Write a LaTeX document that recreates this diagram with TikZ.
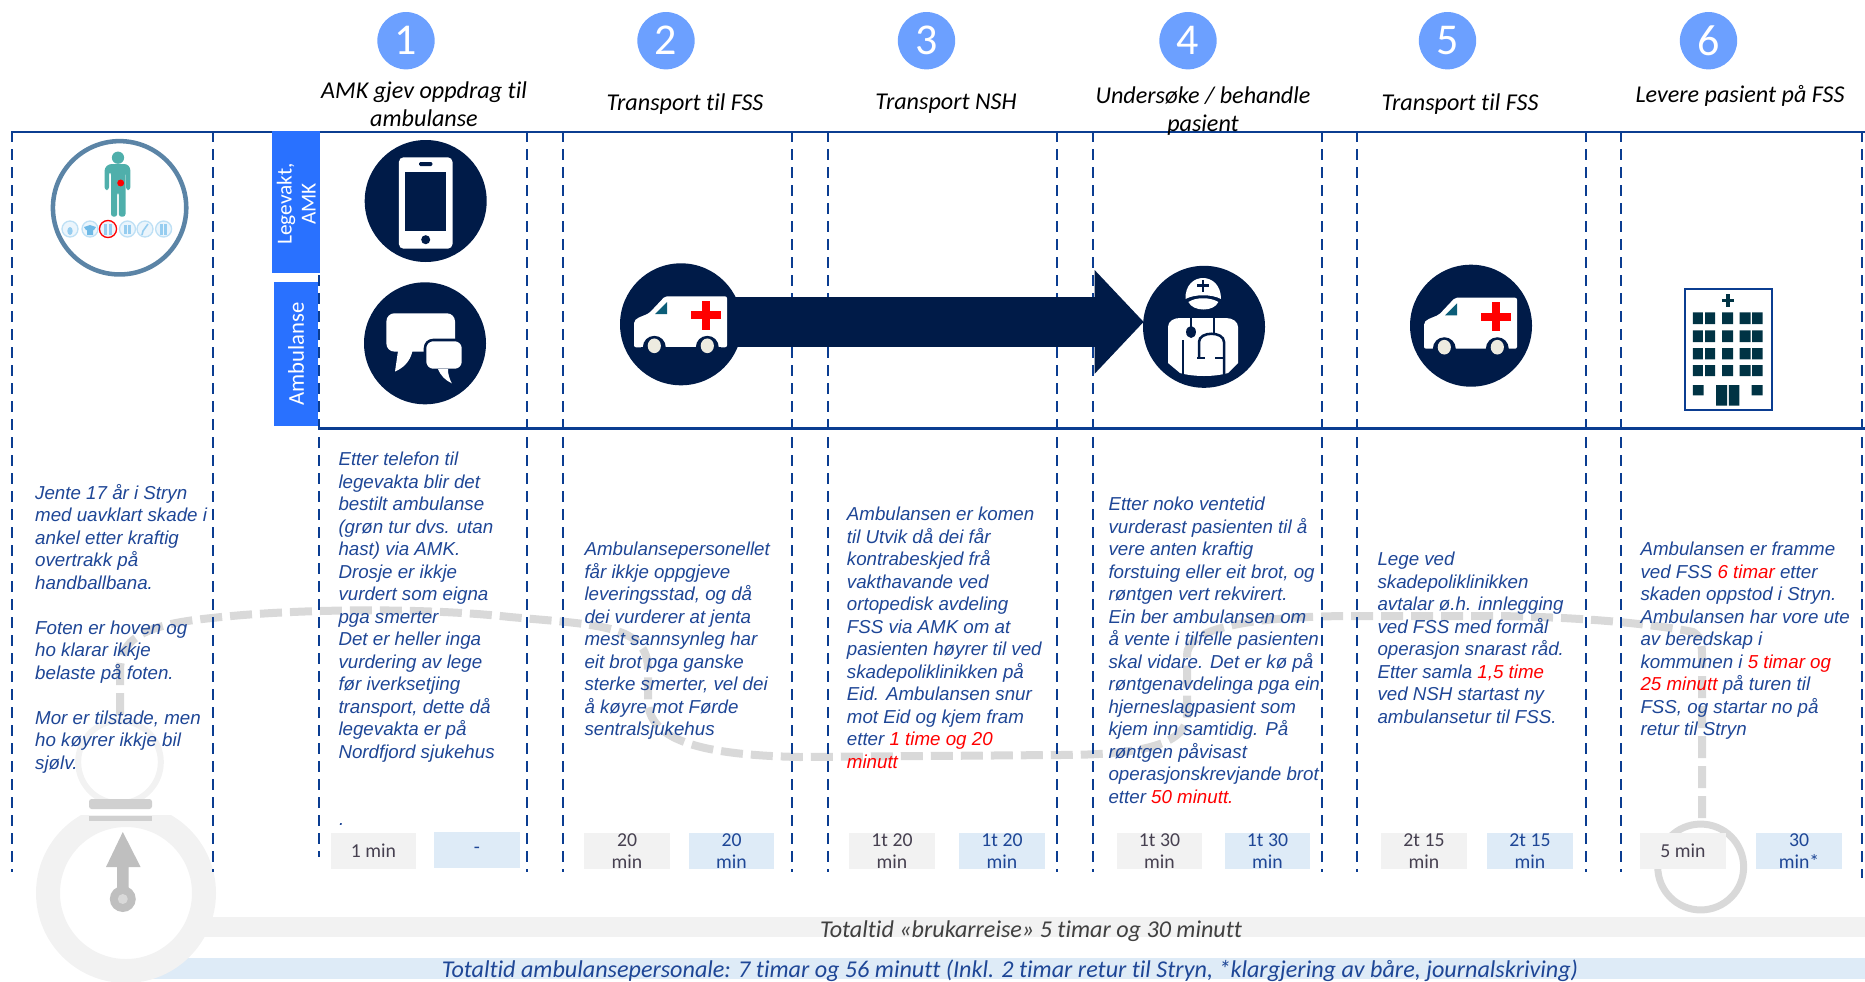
\documentclass[tikz,border=0pt]{standalone}
\usepackage{fontspec}
\setmainfont{Liberation Sans}
\newfontfamily\calibrifont[Ligatures=NoCommon]{Carlito}
\usetikzlibrary{arrows.meta}

\tikzset{every picture/.style={line width=0.75pt}}
\tikzset{
  columnline/.style={draw={rgb, 255:red, 11; green, 61; blue, 145 },line width=1.9,dash pattern=on 8.25pt off 5.25pt},
  rowline/.style={draw={rgb, 255:red, 11; green, 61; blue, 145 },line width=1.6},
  routeline/.style={draw={rgb, 255:red, 217; green, 217; blue, 217 },line width=6,dash pattern=on 16.5pt off 6pt},
  numbernode/.style={circle,fill={rgb, 255:red, 108; green, 160; blue, 255 },minimum size=43pt,inner sep=0pt,text=white,font=\calibrifont\fontsize{33}{33}\selectfont},
  titletext/.style={inner sep=0pt,align=center,font=\calibrifont\itshape\fontsize{18.1}{21}\selectfont},
  bodytext/.style={anchor=north west,inner sep=0pt,align=left,text={rgb, 255:red, 30; green, 70; blue, 150 },font=\fontsize{14.05}{16.875}\selectfont\itshape,execute at begin node=\strut},
  rolebox/.style={rotate=90,inner sep=0pt,align=center,fill={rgb, 255:red, 41; green, 113; blue, 255 },text=white,font=\calibrifont\fontsize{16}{18}\selectfont},
  iconcircle/.style={circle,fill={rgb, 255:red, 0; green, 27; blue, 72 },minimum size=91.5pt,inner sep=0pt},
  timegrey/.style={fill={rgb, 255:red, 242; green, 242; blue, 242 },minimum width=64pt,minimum height=27pt,inner sep=0pt,align=center,text={rgb, 255:red, 70; green, 64; blue, 80 },font=\calibrifont\fontsize{14.8}{16.5}\selectfont},
  timeblue/.style={fill={rgb, 255:red, 222; green, 235; blue, 247 },minimum width=64pt,minimum height=27pt,inner sep=0pt,align=center,text={rgb, 255:red, 30; green, 70; blue, 150 },font=\calibrifont\fontsize{14.8}{16.5}\selectfont},
  iconwhite/.style={fill=white,draw=none},
  icondark/.style={fill={rgb, 255:red, 0; green, 27; blue, 72 }},
  iconline/.style={draw={rgb, 255:red, 0; green, 27; blue, 72 },line width=1.9},
  hospitaldark/.style={fill={rgb, 255:red, 0; green, 51; blue, 68 }},
  pics/ambulanceicon/.style={code={
    \fill [iconwhite,rounded corners=1.5pt] (-47,23) -- (-47,-3) -- (-44,-6) -- (-32,-11) -- (-16,-28) -- (46,-28) -- (46,23) -- cycle ;
    \fill [icondark] (-26.7,23) circle [radius=8.6pt] ;
    \fill [icondark] (26.3,23) circle [radius=8.6pt] ;
    \fill [icondark] (-40,23) rectangle (40,30) ;
    \fill [fill={rgb, 255:red, 237; green, 235; blue, 224 }] (-26.7,21.5) ellipse [x radius=4.95pt,y radius=5.5pt] ;
    \fill [fill={rgb, 255:red, 237; green, 235; blue, 224 }] (26.3,21.5) ellipse [x radius=4.95pt,y radius=5.5pt] ;
    \fill [fill={rgb, 255:red, 11; green, 93; blue, 120 }] (-14,-22.3) -- (-14,-10.3) -- (-26,-10.3) -- cycle ;
    \fill [red] (10.2,-13) rectangle (40.2,-5) ;
    \fill [red] (21.2,-23.5) rectangle (29.2,5.5) ;
  }}
}

\begin{document}
\begin{tikzpicture}[x=0.75pt,y=0.75pt,yscale=-1,xscale=1]
\useasboundingbox (0,0) rectangle (1865,981);

%Shape: Rectangle
\fill [fill={rgb, 255:red, 242; green, 242; blue, 242 }] (200,917) rectangle (1865,937) ;
%Shape: Rectangle
\fill [fill={rgb, 255:red, 222; green, 235; blue, 247 }] (150,958) rectangle (1865,979) ;

%Shape: Circle
\draw [draw={rgb, 255:red, 242; green, 242; blue, 242 },line width=18] (126,893) circle [radius=58.5pt] ;
%Shape: Rectangle
\fill [white] (76,795) rectangle (176,815) ;
%Shape: Circle
\draw [draw={rgb, 255:red, 242; green, 242; blue, 242 },line width=4.5] (119.5,762) circle [radius=31pt] ;
%Shape: Rectangle
\fill [fill={rgb, 255:red, 208; green, 208; blue, 208 },rounded corners=2pt] (89,799) -- (89,809) -- (152,809) -- (152,799) -- cycle ;
\fill [fill={rgb, 255:red, 208; green, 208; blue, 208 }] (89,816) rectangle (152,821) ;
%Clock hand
\fill [fill={rgb, 255:red, 191; green, 191; blue, 191 }] (122.8,832) -- (140.6,867) -- (128.6,867) -- (128.6,890) -- (117,890) -- (117,867) -- (106,867) -- cycle ;
\fill [fill={rgb, 255:red, 191; green, 191; blue, 191 }] (122.8,899) circle [radius=9.75pt] ;
\fill [fill={rgb, 255:red, 217; green, 217; blue, 217 }] (122.8,899) circle [radius=3.75pt] ;

%Curve Lines
\draw [routeline] (120,715) -- (120,672) .. controls (120,640) and (140,625) .. (212,618) .. controls (300,608) and (430,608) .. (510,617) .. controls (600,625) and (648,625) .. (648,670) -- (648,700) .. controls (648,740) and (700,755) .. (800,757) -- (1057,755) .. controls (1120,755) and (1187,750) .. (1187,715) -- (1187,655) .. controls (1187,630) and (1240,617) .. (1347,616) -- (1483,616) .. controls (1580,616) and (1660,625) .. (1693,632) .. controls (1700,636) and (1702,642) .. (1702,655) -- (1702,822) ;
%Shape: Circle
\draw [draw={rgb, 255:red, 217; green, 217; blue, 217 },line width=5.25] (1700.7,867) circle [radius=32.2pt] ;

%Straight Lines
\draw [columnline] (12,131) -- (12,872) ;
\draw [columnline] (213,131) -- (213,872) ;
\draw [columnline] (319,131) -- (319,857) ;
\draw [columnline] (527,131) -- (527,872) ;
\draw [columnline] (563,131) -- (563,872) ;
\draw [columnline] (792,131) -- (792,872) ;
\draw [columnline] (828,131) -- (828,872) ;
\draw [columnline] (1057,131) -- (1057,872) ;
\draw [columnline] (1093,131) -- (1093,872) ;
\draw [columnline] (1322,131) -- (1322,872) ;
\draw [columnline] (1357,131) -- (1357,872) ;
\draw [columnline] (1586,131) -- (1586,872) ;
\draw [columnline] (1621,131) -- (1621,872) ;
\draw [columnline] (1862,131) -- (1862,878) ;
%Straight Lines
\draw [rowline] (12,131.6) -- (1865,131.6) ;
\draw [rowline] (320,428.5) -- (1865,428.5) ;

% Role boxes
\draw (296.2,202) node (legevakt) [rolebox,minimum width=106.5pt,minimum height=35.6pt] {Legevakt,\hspace*{3pt}\\AMK\hspace*{3pt}};
\draw (296,354) node (ambulanse) [rolebox,minimum width=108pt,minimum height=33pt,font=\calibrifont\fontsize{17}{18}\selectfont] {Ambulanse};

% Numbers
\draw (406,40.7) node (numone) [numbernode] {1};
\draw (666,40.7) node (numtwo) [numbernode] {2};
\draw (926.5,40.7) node (numthree) [numbernode] {3};
\draw (1188,40.7) node (numfour) [numbernode] {4};
\draw (1447.5,40.7) node (numfive) [numbernode] {5};
\draw (1708.5,40.7) node (numsix) [numbernode] {6};

% Text Node
\draw (424,104) node (titleone) [titletext] {AMK gjev oppdrag til\\ambulanse};
\draw (685,104) node (titletwo) [titletext] {Transport til FSS};
\draw (946,104) node (titlethree) [titletext] {Transport NSH};
\draw (1203,111) node (titlefour) [titletext] {Undersøke / behandle\\pasient};
\draw (1460,104) node (titlefive) [titletext] {Transport til FSS};
\draw (1740,96) node (titlesix) [titletext] {Levere pasient på FSS};

%Shape: Circle
\draw [draw={rgb, 255:red, 91; green, 132; blue, 166 },line width=3.4] (119.6,207.8) circle [radius=50pt] ;
%Patient figure
\fill [fill={rgb, 255:red, 79; green, 175; blue, 171 }] (118,157.7) circle [radius=4.6pt] ;
\fill [fill={rgb, 255:red, 79; green, 175; blue, 171 },rounded corners=2pt] (104.6,190) -- (104.6,168) -- (109,164) -- (127,164) -- (130.4,168) -- (130.4,190) -- (126,190) -- (126,172) -- (125.5,172) -- (125.5,216.7) -- (118.8,216.7) -- (118.8,192) -- (117.2,192) -- (117.2,216.7) -- (111,216.7) -- (111,172) -- (109,172) -- (109,190) -- cycle ;
\fill [red] (120.7,183) circle [radius=2.6pt] ;
%Shape: Circle
\draw [draw={rgb, 255:red, 190; green, 224; blue, 245 },fill={rgb, 255:red, 235; green, 245; blue, 252 },line width=1] (70,229) circle [radius=6pt] ;
\draw [draw={rgb, 255:red, 190; green, 224; blue, 245 },fill={rgb, 255:red, 235; green, 245; blue, 252 },line width=1] (90,229) circle [radius=6pt] ;
\draw [draw={rgb, 255:red, 190; green, 224; blue, 245 },fill={rgb, 255:red, 235; green, 245; blue, 252 },line width=1] (127.5,229) circle [radius=6pt] ;
\draw [draw={rgb, 255:red, 190; green, 224; blue, 245 },fill={rgb, 255:red, 235; green, 245; blue, 252 },line width=1] (145,229) circle [radius=6pt] ;
\draw [draw={rgb, 255:red, 190; green, 224; blue, 245 },fill={rgb, 255:red, 235; green, 245; blue, 252 },line width=1] (163.6,229) circle [radius=6pt] ;
\draw [draw=red,fill={rgb, 255:red, 235; green, 245; blue, 252 },line width=1] (108,229) circle [radius=6.4pt] ;
\fill [fill={rgb, 255:red, 150; green, 205; blue, 240 }] (70,231) ellipse [x radius=2pt,y radius=3pt] ;
\fill [fill={rgb, 255:red, 110; green, 185; blue, 230 }] (90,225) -- (96,227) -- (94,230) -- (93,230) -- (93,235) -- (87,235) -- (87,230) -- (86,230) -- (84,227) -- cycle ;
\fill [fill={rgb, 255:red, 150; green, 205; blue, 240 }] (104,224) rectangle (107.4,235) ;
\fill [fill={rgb, 255:red, 150; green, 205; blue, 240 }] (108.6,224) rectangle (112,235) ;
\fill [fill={rgb, 255:red, 150; green, 205; blue, 240 }] (124,225) rectangle (126.6,234) ;
\fill [fill={rgb, 255:red, 150; green, 205; blue, 240 }] (128.4,225) rectangle (131,234) ;
\draw [draw={rgb, 255:red, 150; green, 205; blue, 240 },line width=1.2] (148,224) -- (143,231) -- (142,235) ;
\fill [fill={rgb, 255:red, 150; green, 205; blue, 240 }] (160,224) rectangle (162.8,235) ;
\fill [fill={rgb, 255:red, 150; green, 205; blue, 240 }] (164.4,224) rectangle (167.2,235) ;

%Shape: Circle
\draw (425.7,201) node (phonecircle) [iconcircle] {};
%Phone
\fill [iconwhite,rounded corners=3.5pt] (398.9,157.3) rectangle (452.5,248.7) ;
\fill [icondark] (405.3,172) rectangle (446.1,231.3) ;
\fill [icondark,rounded corners=1pt] (419,162) rectangle (432.4,166) ;
\fill [icondark] (425.7,239.7) circle [radius=3.4pt] ;

%Shape: Circle
\draw (425,343.3) node (speechcircle) [iconcircle] {};
%Speech bubbles
\fill [iconwhite,rounded corners=6pt] (386.4,313.3) -- (386.4,351.6) -- (402,351.6) -- (455,351.6) -- (455,313.3) -- cycle ;
\fill [iconwhite] (398,351) -- (395,371.6) .. controls (403,368) and (410,362) .. (412.5,351) -- cycle ;
\draw [iconline,fill=white,rounded corners=6pt] (425,340) rectangle (463,370) ;
\fill [iconwhite] (438,369) .. controls (441,376) and (445,380) .. (451.8,383.3) .. controls (449,378) and (448,374) .. (448,369) -- cycle ;

%Shape: Circle
\draw (681,324.3) node (ambone) [iconcircle] {};
\coordinate (arrowtip) at (1143.7,321.9);
%Straight Lines
\draw [draw={rgb, 255:red, 0; green, 27; blue, 72 },line width=37.5pt,-{Triangle[length=36.75pt,width=75.5pt]}] (ambone.center |- arrowtip) -- (arrowtip) ;
\pic [yscale=-1] at (681,324.3) {ambulanceicon};

%Shape: Circle
\draw (1204,326.8) node (doctor) [iconcircle] {};
%Doctor
\fill [iconwhite] (1185.5,299) .. controls (1185,285) and (1194,278) .. (1203,278) .. controls (1212,278) and (1221,285) .. (1221,299) .. controls (1212,294) and (1194,294) .. (1185.5,299) -- cycle ;
\draw [iconline,line width=2.2] (1197,285.8) -- (1209,285.8) (1203,280) -- (1203,291.5) ;
\fill [iconwhite] (1188.4,302) .. controls (1196,297) and (1210,297) .. (1218.3,302) .. controls (1214,312) and (1193,312) .. (1188.4,302) -- cycle ;
\fill [iconwhite] (1168,363) -- (1168,327) .. controls (1168,321) and (1174,318) .. (1180,318) -- (1226,318) .. controls (1233,318) and (1238,322) .. (1238,327) -- (1238,363) -- (1228,373) .. controls (1214,377) and (1194,377) .. (1180,373) -- cycle ;
\draw [iconline] (1183,340) -- (1183,374) ;
\draw [iconline] (1191,318) -- (1191,330) ;
\fill [icondark] (1191,332) ellipse [x radius=3.7pt,y radius=4.5pt] ;
\draw [iconline] (1214,318) -- (1214,334) ;
\draw [iconline] (1199,358) -- (1199,342) .. controls (1199,331) and (1224,331) .. (1224,342) -- (1224,376) ;
\draw [iconline,line width=2.2] (1197,358) -- (1205,358) (1215,358) -- (1224,358) ;

%Shape: Circle
\draw (1471,325.7) node (ambtwo) [iconcircle] {};
\pic [yscale=-1] at (1471,325.7) {ambulanceicon};

%Hospital
\draw [draw={rgb, 255:red, 11; green, 61; blue, 145 },line width=2,fill=white] (1685,289) rectangle (1772,410) ;
\fill [hospitaldark] (1725.7,294) rectangle (1729.7,307) ;
\fill [hospitaldark] (1721.5,298.5) rectangle (1734,302.3) ;
\fill [hospitaldark] (1692.8,312.3) rectangle (1702.9,324) (1705,312.3) rectangle (1715,324) (1722,312.3) rectangle (1733,324) (1739.6,312.3) rectangle (1750.5,324) (1752,312.3) rectangle (1762.7,324) ;
\fill [hospitaldark] (1692.8,330.3) rectangle (1702.9,342) (1705,330.3) rectangle (1715,342) (1722,330.3) rectangle (1733,342) (1739.6,330.3) rectangle (1750.5,342) (1752,330.3) rectangle (1762.7,342) ;
\fill [hospitaldark] (1692.8,348) rectangle (1702.9,359.3) (1705,348) rectangle (1715,359.3) (1722,348) rectangle (1733,359.3) (1739.6,348) rectangle (1750.5,359.3) (1752,348) rectangle (1762.7,359.3) ;
\fill [hospitaldark] (1692.8,365) rectangle (1702.9,376) (1705,365) rectangle (1715,376) (1722,365) rectangle (1733,376) (1739.6,365) rectangle (1750.5,376) (1752,365) rectangle (1762.7,376) ;
\fill [hospitaldark] (1692.8,385) rectangle (1703.6,395.3) (1751.5,385) rectangle (1762.7,395.3) (1716,385) rectangle (1727,405.7) (1728.8,385) rectangle (1739.3,405.7) ;

% Text Node
\draw (34.7,483.7) node (textstart) [bodytext] {Jente 17 år i Stryn\\med uavklart skade i\\ankel etter kraftig\\overtrakk på\\handballbana.\\\strut\\Foten er hoven og\\ho klarar ikkje\\belaste på foten.\\\strut\\Mor er tilstade, men\\ho køyrer ikkje bil\\sjølv.};
% Text Node
\draw (338,451.7) node (textone) [bodytext] {Etter telefon til\\legevakta blir det\\bestilt ambulanse\\(grøn tur dvs. utan\\hast) via AMK.\\Drosje er ikkje\\vurdert som eigna\\pga smerter\\Det er heller inga\\vurdering av lege\\før iverksetjing\\transport, dette då\\legevakta er på\\Nordfjord sjukehus};
\draw (338.5,809) node (dotone) [bodytext] {.};
% Text Node
\draw (584,541.7) node (texttwo) [bodytext] {Ambulansepersonellet\\får ikkje oppgjeve\\leveringsstad, og då\\dei vurderer at jenta\\mest sannsynleg har\\eit brot pga ganske\\sterke smerter, vel dei\\å køyre mot Førde\\sentralsjukehus};
% Text Node
\draw (846.4,506.7) node (textthree) [bodytext] {Ambulansen er komen\\til Utvik då dei får\\kontrabeskjed frå\\vakthavande ved\\ortopedisk avdeling\\FSS via AMK om at\\pasienten høyrer til ved\\skadepoliklinikken på\\Eid. Ambulansen snur\\mot Eid og kjem fram\\etter \textcolor{red}{1 time og 20}\\\textcolor{red}{minutt}};
% Text Node
\draw (1108,496.7) node (textfour) [bodytext] {Etter noko ventetid\\vurderast pasienten til å\\vere anten kraftig\\forstuing eller eit brot, og\\røntgen vert rekvirert.\\Ein ber ambulansen om\\å vente i tilfelle pasienten\\skal vidare. Det er kø på\\røntgenavdelinga pga ein\\hjerneslagpasient som\\kjem inn samtidig. På\\røntgen påvisast\\operasjonskrevjande brot\\etter \textcolor{red}{50 minutt.}};
% Text Node
\draw (1377,551.7) node (textfive) [bodytext] {Lege ved\\skadepoliklinikken\\avtalar ø.h. innlegging\\ved FSS med formål\\operasjon snarast råd.\\Etter samla \textcolor{red}{1,5 time}\\ved NSH startast ny\\ambulansetur til FSS.};
% Text Node
\draw (1640,541.7) node (textsix) [bodytext] {Ambulansen er framme\\ved FSS \textcolor{red}{6 timar} etter\\skaden oppstod i Stryn.\\Ambulansen har vore ute\\av beredskap i\\kommunen i \textcolor{red}{5 timar og}\\\textcolor{red}{25 minutt} på turen til\\FSS, og startar no på\\retur til Stryn};

% Time boxes
\draw (373.5,851) node (greyone) [timegrey] {1 min};
\draw (477,850) node (blueone) [timeblue] {-};
\draw (627,851) node (greytwo) [timegrey] {20\\min};
\draw (731.5,851) node (bluetwo) [timeblue] {20\\min};
\draw (892,851) node (greythree) [timegrey] {1t 20\\min};
\draw (1002,851) node (bluethree) [timeblue] {1t 20\\min};
\draw (1159.5,851) node (greyfour) [timegrey] {1t 30\\min};
\draw (1267.5,851) node (bluefour) [timeblue] {1t 30\\min};
\draw (1424,851) node (greyfive) [timegrey] {2t 15\\min};
\draw (1530,851) node (bluefive) [timeblue] {2t 15\\min};
\draw (1683,851) node (greysix) [timegrey] {5 min};
\draw (1799,851) node (bluesix) [timeblue] {30\\min*};

% Text Node
\draw (1031,931) node (totalgrey) [inner sep=0pt,text={rgb, 255:red, 64; green, 64; blue, 64 },font=\calibrifont\itshape\fontsize{18.1}{21}\selectfont] {Totaltid «brukarreise» 5 timar og 30 minutt};
\draw (1010,971) node (totalblue) [inner sep=0pt,text={rgb, 255:red, 30; green, 70; blue, 150 },font=\calibrifont\itshape\fontsize{18.1}{21}\selectfont] {Totaltid ambulansepersonale: 7 timar og 56 minutt (Inkl. 2 timar retur til Stryn, *klargjering av båre, journalskriving)};

\end{tikzpicture}
\end{document}
